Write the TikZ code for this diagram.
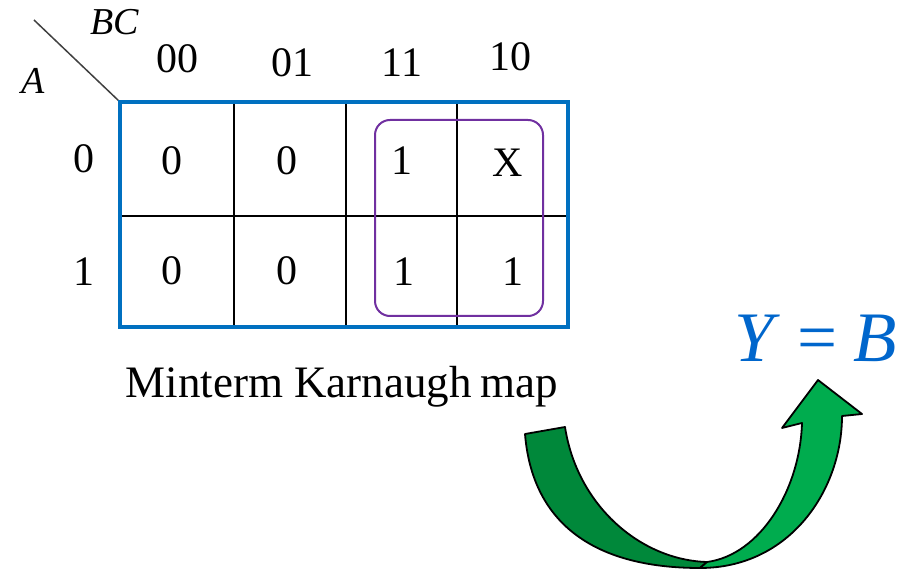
\documentclass[tikz,border=0pt]{standalone}
\usepackage{fontspec}
\setmainfont{Liberation Serif}
\definecolor{kblue}{HTML}{0070C0}
\definecolor{kpurple}{HTML}{7030A0}
\definecolor{ydark}{HTML}{00883A}
\definecolor{ylight}{HTML}{00AC4E}
\definecolor{eqblue}{HTML}{0066CC}
\tikzset{
  lbl/.style={inner sep=0pt, anchor=base, font=\fontsize{42}{50}\selectfont},
  itl/.style={inner sep=0pt, anchor=base, font=\fontsize{38}{44}\selectfont\itshape},
  gridline/.style={line width=2.4pt, black},
  arrowpart/.style={draw=black, line width=1.8pt, line join=round}
}
\begin{document}
\begin{tikzpicture}[x=1pt,y=-1pt]
\useasboundingbox (0,0) rectangle (900,569);
% diagonal
\draw[line width=1.5pt, black!75] (34,20) coordinate (d1) -- (120,102) coordinate (d2);
% grid lines
\draw[gridline] (234,102) -- (234,327);
\draw[gridline] (346,102) -- (346,327);
\draw[gridline] (457,102) -- (457,327);
\draw[gridline] (120,216) -- (568,216);
% outer blue box
\draw[line width=4.2pt, kblue] (120,102) rectangle (568,327);
% group
\draw[line width=2pt, kpurple, rounded corners=15pt] (375,120) rectangle (543,316);
% labels
\node[itl] (bc) at (115,35) {BC};
\node[itl] (a) at (33,94) {A};
\node[lbl] (h00) at (177,73) {00};
\node[lbl] (h01) at (292,77) {01};
\node[lbl] (h11) at (402,77) {11};
\node[lbl] (h10) at (510,71) {10};
\node[lbl] (r0) at (84,173) {0};
\node[lbl] (r1) at (84,286) {1};
\node[lbl] (c00) at (172,175) {0};
\node[lbl] (c01) at (287,175) {0};
\node[lbl] (c03) at (402,175) {1};
\node[lbl] (c02) at (508,177) {X};
\node[lbl] (c10) at (172,285) {0};
\node[lbl] (c11) at (287,285) {0};
\node[lbl] (c13) at (404,286) {1};
\node[lbl] (c12) at (513,286) {1};
\node[inner sep=0pt, anchor=base, font=\fontsize{45}{52}\selectfont] (cap) at (342,398) {Minterm Karnaugh\hspace{-2pt} map};
\node[inner sep=0pt, anchor=base, text=eqblue, font=\fontsize{71}{80}\selectfont] (eq) at (816,362) {\textit{Y}\hspace{17pt}=\hspace{16pt}\textit{B}};
% curved arrow
\fill[ydark] (525,434) .. controls (532,520) and (590,568) .. (700,568) -- (707,562) .. controls (640,560) and (577,505) .. (565,427) -- cycle;
\draw[arrowpart] (525,434) .. controls (532,520) and (590,568) .. (700,568) -- (707,562) .. controls (640,560) and (577,505) .. (565,427) -- cycle;
\filldraw[arrowpart, fill=ylight] (707,562) .. controls (760,555) and (800,490) .. (802,423) -- (782,428) -- (818,380) -- (862,414) -- (842,416) .. controls (842,490) and (790,568) .. (700,568) -- cycle;
\end{tikzpicture}
\end{document}
